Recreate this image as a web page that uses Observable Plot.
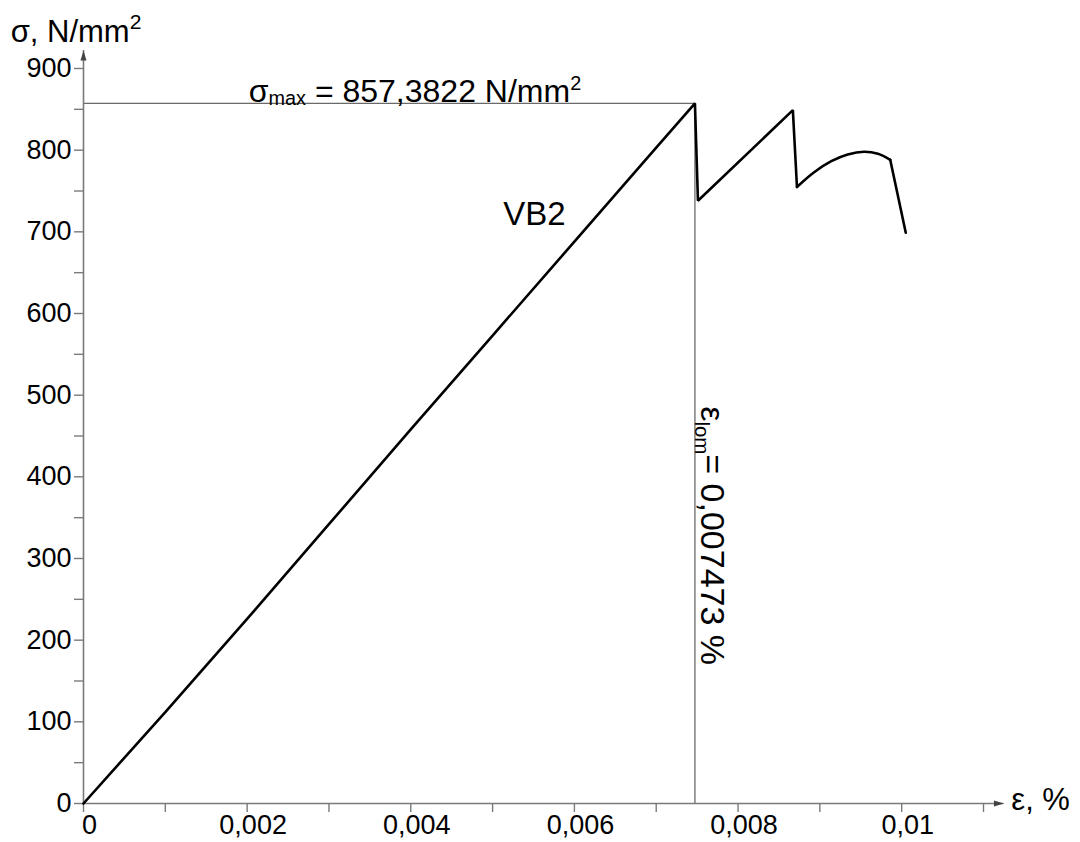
<!DOCTYPE html>
<html><head><meta charset="utf-8">
<script src="https://cdn.jsdelivr.net/npm/d3@7"></script>
<script src="https://cdn.jsdelivr.net/npm/@observablehq/plot@0.6"></script>
<style>
html,body{margin:0;padding:0;background:#fff;}
</style></head><body><div id="chart"></div>
<script>
// ---- data ----
const strain = [0, 0.001, 0.002, 0.003, 0.004, 0.005, 0.006, 0.007, 0.007473, 0.00751, 0.00867, 0.00872, 0.00893, 0.00914, 0.00934, 0.00954, 0.00971, 0.00986, 0.01005];
const stress = [0, 112, 226, 342, 458, 573, 688, 803, 857.3822, 738, 849, 755, 773, 786.5, 794.7, 798, 795.5, 788.2, 699];
// index range of the rounded arc
const arcStart = 11;
const arcEnd = 17;
const sigmaMax = 857.3822;
const epsLom = 0.007473;
const xTicks = [0, 0.001, 0.002, 0.003, 0.004, 0.005, 0.006, 0.007, 0.008, 0.009, 0.01, 0.011];
const xLabels = [0, 0.002, 0.004, 0.006, 0.008, 0.01];
const yTicks = [0, 50, 100, 150, 200, 250, 300, 350, 400, 450, 500, 550, 600, 650, 700, 750, 800, 850, 900];
const yLabels = [0, 100, 200, 300, 400, 500, 600, 700, 800, 900];
const xAxisEnd = 0.01125;
const yAxisEnd = 922;
const seriesName = "VB2";
// annotation anchors (data units)
const labelVB2 = {x: 0.00551, y: 721};
const labelSigma = {x: 0.00202, y: sigmaMax};
const labelEps = {x: epsLom, y: 328};
const titleY = {x: -0.00089, y: 944};
const titleX = {x: 0.01134, y: 0};

const fmt = v => String(v).replace(".", ",");
const pts = strain.map((x, i) => ({x, y: stress[i], i}));
const straightA = pts.filter(d => d.i <= arcStart).map(d => ({...d, seg: "a"}));
const straightB = pts.filter(d => d.i >= arcEnd).map(d => ({...d, seg: "b"}));
const arcPts = pts.filter(d => d.i >= arcStart && d.i <= arcEnd);

const arrowHead = {
  draw(ctx, size) {
    const r = Math.sqrt(size / Math.PI);
    ctx.moveTo(0, 0);
    ctx.lineTo(r * 0.6, r * 2);
    ctx.lineTo(-r * 0.6, r * 2);
    ctx.closePath();
  }
};

const FONT = "'Liberation Sans', Arial, sans-serif";
const axisGray = "#7a7a7a";
const annGray = "#6a6a6a";

const chart = Plot.plot({
  width: 1080,
  height: 842,
  marginLeft: 83,
  marginRight: 97,
  marginTop: 68,
  marginBottom: 39,
  x: {domain: [0, 0.011], label: null},
  y: {domain: [0, 900], label: null},
  style: {fontFamily: FONT, fontSize: "27px", color: "#000", background: "#fff", overflow: "visible"},
  marks: [
    Plot.ruleY([sigmaMax], {x1: 0, x2: epsLom, stroke: annGray, strokeWidth: 1.3}),
    Plot.ruleX([epsLom], {y1: 0, y2: sigmaMax, stroke: annGray, strokeWidth: 1.3}),
    Plot.ruleY([0], {x1: 0, x2: xAxisEnd, stroke: axisGray, strokeWidth: 1.6}),
    Plot.ruleX([0], {y1: 0, y2: yAxisEnd, stroke: axisGray, strokeWidth: 1.6}),
    Plot.dot([{x: xAxisEnd, y: 0}], {x: "x", y: "y", symbol: arrowHead, rotate: 90, r: 5, fill: "#444", stroke: "none"}),
    Plot.dot([{x: 0, y: yAxisEnd}], {x: "x", y: "y", symbol: arrowHead, r: 5, fill: "#444", stroke: "none"}),
    Plot.axisX(xTicks, {tickSize: 9, tickFormat: () => "", color: axisGray, strokeWidth: 1.4, label: null}),
    Plot.axisY(yTicks, {tickSize: 9, tickFormat: () => "", color: axisGray, strokeWidth: 1.4, label: null}),
    Plot.text(xLabels, {x: d => d, y: 0, text: fmt, dy: 22, dx: 6, fontSize: 27, fill: "#000"}),
    Plot.text(yLabels, {x: 0, y: d => d, text: fmt, textAnchor: "end", dx: -12, fontSize: 27, fill: "#000"}),
    Plot.line([...straightA, ...straightB], {x: "x", y: "y", z: "seg", stroke: "#000", strokeWidth: 2.6, strokeLinejoin: "miter"}),
    Plot.line(arcPts, {x: "x", y: "y", curve: "catmull-rom", stroke: "#000", strokeWidth: 2.6}),
    Plot.text([labelVB2], {x: "x", y: "y", text: () => seriesName, fontSize: 33, fill: "#000"}),
    Plot.text([labelSigma], {x: "x", y: "y", text: () => "σmax = 857,3822 N/mm2", textAnchor: "start", lineAnchor: "bottom", dy: -1, fontSize: 32, fill: "#000"}),
    Plot.text([labelEps], {x: "x", y: "y", text: () => "εlom= 0,007473 %", rotate: 90, dx: 17, fontSize: 34, fill: "#000"}),
    Plot.text([titleY], {x: "x", y: "y", text: () => "σ, N/mm2", textAnchor: "start", fontSize: 31, fill: "#000"}),
    Plot.text([titleX], {x: "x", y: "y", text: () => "ε, %", textAnchor: "start", dy: -3, fontSize: 31, fill: "#000"})
  ]
});

// rich text (sub/superscripts) as real tspans
const rich = {
  "σmax = 857,3822 N/mm2": {parts: [["σ"], ["max", "sub"], [" = 857,3822 N/mm"], ["2", "sup"]], sub: 0.08, sup: -0.38, scale: 0.62},
  "σ, N/mm2": {parts: [["σ, N/mm"], ["2", "sup"]], sub: 0.1, sup: -0.42, scale: 0.68},
  "εlom= 0,007473 %": {parts: [["ε"], ["lom", "sub"], ["= 0,007473 %"]], sub: 0.18, sup: -0.3, scale: 0.6}
};
const NS = "http://www.w3.org/2000/svg";
chart.querySelectorAll("text").forEach(t => {
  const spec = rich[t.textContent];
  if (!spec) return;
  const fs = parseFloat(t.getAttribute("font-size") || t.parentNode.getAttribute("font-size") || 28);
  while (t.firstChild) t.removeChild(t.firstChild);
  let shift = 0;
  for (const [s, k] of spec.parts) {
    const ts = document.createElementNS(NS, "tspan");
    const target = k === "sub" ? fs * spec.sub : k === "sup" ? fs * spec.sup : 0;
    ts.setAttribute("dy", target - shift);
    shift = target;
    if (k) ts.setAttribute("font-size", fs * spec.scale);
    ts.textContent = s;
    t.appendChild(ts);
  }
});

document.getElementById("chart").appendChild(chart);
</script>
</body></html>
